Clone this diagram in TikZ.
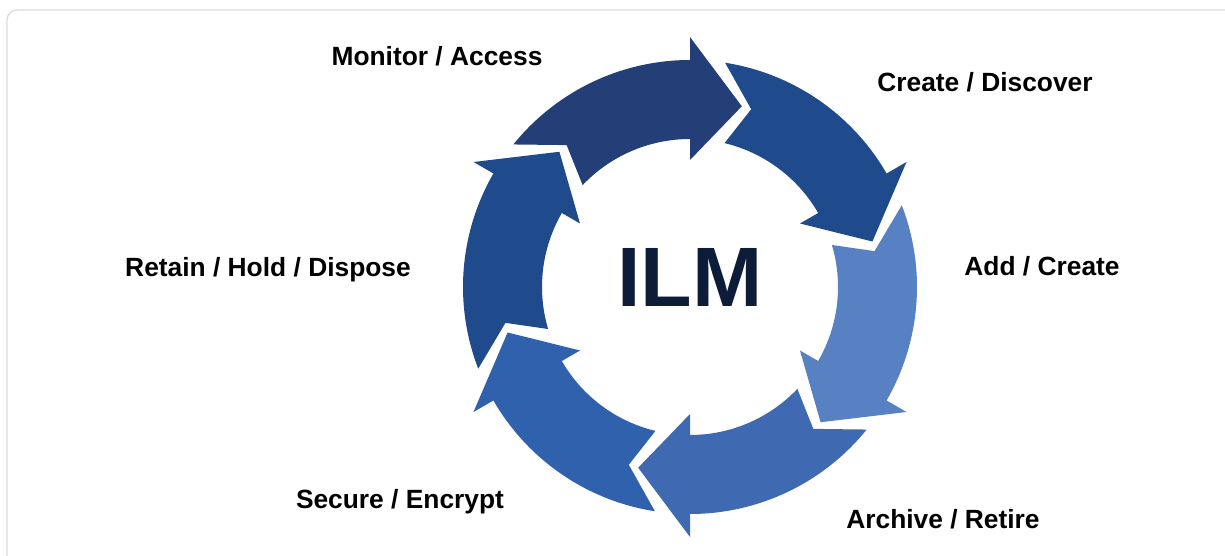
\documentclass[tikz,border=0pt]{standalone}
\usepackage{fontspec}
\setmainfont{Liberation Sans}
\usepackage{xcolor}

\definecolor{monitorblue}{HTML}{243F78}
\definecolor{createblue}{HTML}{1F4A8B}
\definecolor{addblue}{HTML}{5781C2}
\definecolor{archiveblue}{HTML}{3F69B0}
\definecolor{secureblue}{HTML}{3061AD}
\definecolor{retainblue}{HTML}{1F4B8C}
\definecolor{ilmnavy}{HTML}{0D1C38}
\definecolor{framegray}{HTML}{DCDCDC}

\begin{document}
\begin{tikzpicture}[x=0.02cm, y=0.02cm,
  lbl/.style={anchor=base, font=\bfseries\fontsize{15}{17}\selectfont, text=black}]
  \useasboundingbox (0,0) rectangle (1225,555);

  % Draw the frame, cut off at the right and bottom
  \draw[color=framegray, line width=0.8pt, rounded corners=2mm] (7,545) rectangle (1260,-30);

  % Draw the six arrows round the circle
  \begin{scope}[shift={(690,268)}]
    \foreach \b/\col in {90/monitorblue, 30/createblue, -30/addblue, -90/archiveblue, -150/secureblue, 150/retainblue}
      \fill[fill=\col] ({\b+51.1}:227) arc[start angle=\b+51.1, end angle=\b, radius=227]
        -- (\b:250) -- ({\b-16}:188) -- (\b:127) -- (\b:148)
        arc[start angle=\b, end angle=\b+46.5, radius=148]
        -- ({\b+41}:188) -- cycle;
  \end{scope}

  % Centre text
  \node[font=\bfseries\fontsize{48}{50}\selectfont, text=ilmnavy] (ilm) at (690,278) {ILM};

  % Stage labels
  \node[lbl] (monitor) at (437,489) {Monitor / Access};
  \node[lbl] (create) at (985,463) {Create / Discover};
  \node[lbl] (add) at (1042,279) {Add / Create};
  \node[lbl] (archive) at (943,27) {Archive / Retire};
  \node[lbl] (secure) at (400,47) {Secure / Encrypt};
  \node[lbl] (retain) at (268,278) {Retain / Hold / Dispose};
\end{tikzpicture}
\end{document}
